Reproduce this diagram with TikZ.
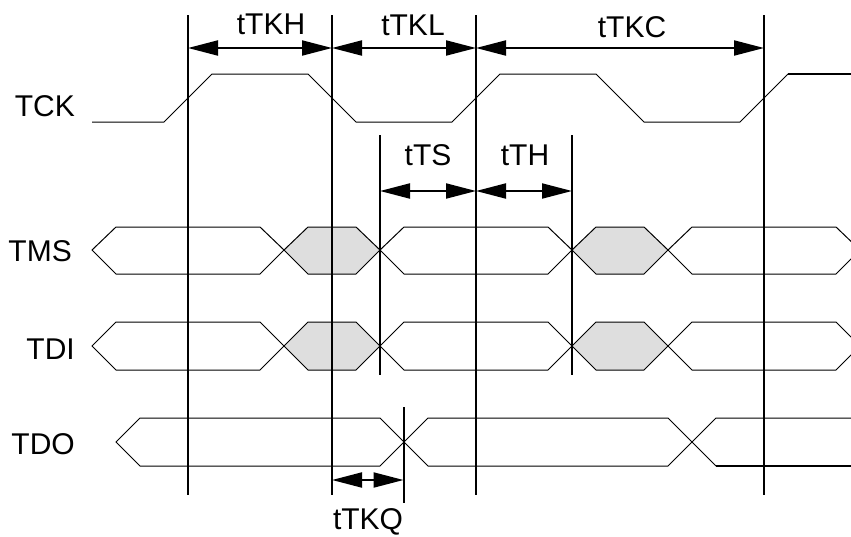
\documentclass[tikz,border=0pt]{standalone}
\usepackage{fontspec}
\setmainfont{Liberation Sans}
\usetikzlibrary{arrows.meta}
\definecolor{shade}{HTML}{DEDEDE}
\tikzset{
  lbl/.style={inner sep=0pt, font=\fontsize{30}{36}\selectfont},
  sig/.style={line width=1pt, line join=miter},
  markline/.style={line width=2pt},
  dimarrow/.style={line width=2pt, {Triangle[length=30pt,width=15pt]}-{Triangle[length=30pt,width=15pt]}},
}
\begin{document}
\begin{tikzpicture}[x=1pt,y=-1pt]
\useasboundingbox (0,0) rectangle (851,536);
% signal labels
\node[lbl, anchor=east] (tck) at (75,106) {TCK};
\node[lbl, anchor=east] (tms) at (72,251) {TMS};
\node[lbl, anchor=east] (tdi) at (75,349) {TDI};
\node[lbl, anchor=east] (tdo) at (75,444) {TDO};
% timing labels
\node[lbl] (lkh) at (271,24) {tTKH};
\node[lbl] (lkl) at (413,25) {tTKL};
\node[lbl] (lkc) at (632,27) {tTKC};
\node[lbl] (lts) at (428,155) {tTS};
\node[lbl] (lth) at (525,155) {tTH};
\node[lbl] (lkq) at (368,522) {tTKQ};

\begin{scope}
\clip (0,0) rectangle (851,536);
% TCK
\draw[sig] (92,122) -- (164,122) -- (212,74) -- (308,74) -- (356,122) -- (452,122) -- (500,74) -- (596,74) -- (644,122) -- (740,122) -- (788,74);
\draw[line width=1.6pt] (788,74) -- (851,74);
% TMS and TDI buses
\foreach \t/\m/\b in {227/250/274, 322/346/370}{
  \draw[sig] (92,\m) -- (116,\t) -- (260,\t) -- (284,\m) -- (260,\b) -- (116,\b) -- cycle;
  \draw[sig, fill=shade] (284,\m) -- (308,\t) -- (356,\t) -- (380,\m) -- (356,\b) -- (308,\b) -- cycle;
  \draw[sig] (380,\m) -- (404,\t) -- (548,\t) -- (572,\m) -- (548,\b) -- (404,\b) -- cycle;
  \draw[sig, fill=shade] (572,\m) -- (596,\t) -- (644,\t) -- (668,\m) -- (644,\b) -- (596,\b) -- cycle;
  \draw[sig] (668,\m) -- (692,\t) -- (836,\t) -- (860,\m) -- (836,\b) -- (692,\b) -- cycle;
}
% TDO bus
\draw[sig] (116,442) -- (140,418) -- (380,418) -- (404,442) -- (380,466) -- (140,466) -- cycle;
\draw[sig] (404,442) -- (428,418) -- (668,418) -- (692,442) -- (668,466) -- (428,466) -- cycle;
\draw[sig] (692,442) -- (716,418) -- (851,418);
\draw[sig] (692,442) -- (716,466);
\draw[line width=2pt] (716,466) -- (851,466);
\end{scope}

% marker lines
\coordinate (a1) at (188,15); \coordinate (a2) at (188,495);
\coordinate (b1) at (332,15); \coordinate (b2) at (332,495);
\coordinate (c1) at (476,15); \coordinate (c2) at (476,495);
\coordinate (d1) at (764,15); \coordinate (d2) at (764,495);
\coordinate (s1) at (380,135); \coordinate (s2) at (380,375);
\coordinate (h1) at (572,135); \coordinate (h2) at (572,375);
\coordinate (q1) at (403.5,407); \coordinate (q2) at (403.5,503);
\draw[markline] (a1) -- (a2);
\draw[markline] (b1) -- (b2);
\draw[markline] (c1) -- (c2);
\draw[markline] (d1) -- (d2);
\draw[markline] (s1) -- (s2);
\draw[markline] (h1) -- (h2);
\draw[markline] (q1) -- (q2);

% dimension arrows
\coordinate (ka) at (188,48); \coordinate (kb) at (332,48);
\coordinate (kc) at (476,48); \coordinate (kd) at (764,48);
\coordinate (sa) at (380,191); \coordinate (sb) at (476,191); \coordinate (sc) at (572,191);
\coordinate (qa) at (332,480); \coordinate (qb) at (403.5,480);
\draw[dimarrow] (ka) -- (kb);
\draw[dimarrow] (kb) -- (kc);
\draw[dimarrow] (kc) -- (kd);
\draw[dimarrow] (sa) -- (sb);
\draw[dimarrow] (sb) -- (sc);
\draw[dimarrow] (qa) -- (qb);
\end{tikzpicture}
\end{document}
